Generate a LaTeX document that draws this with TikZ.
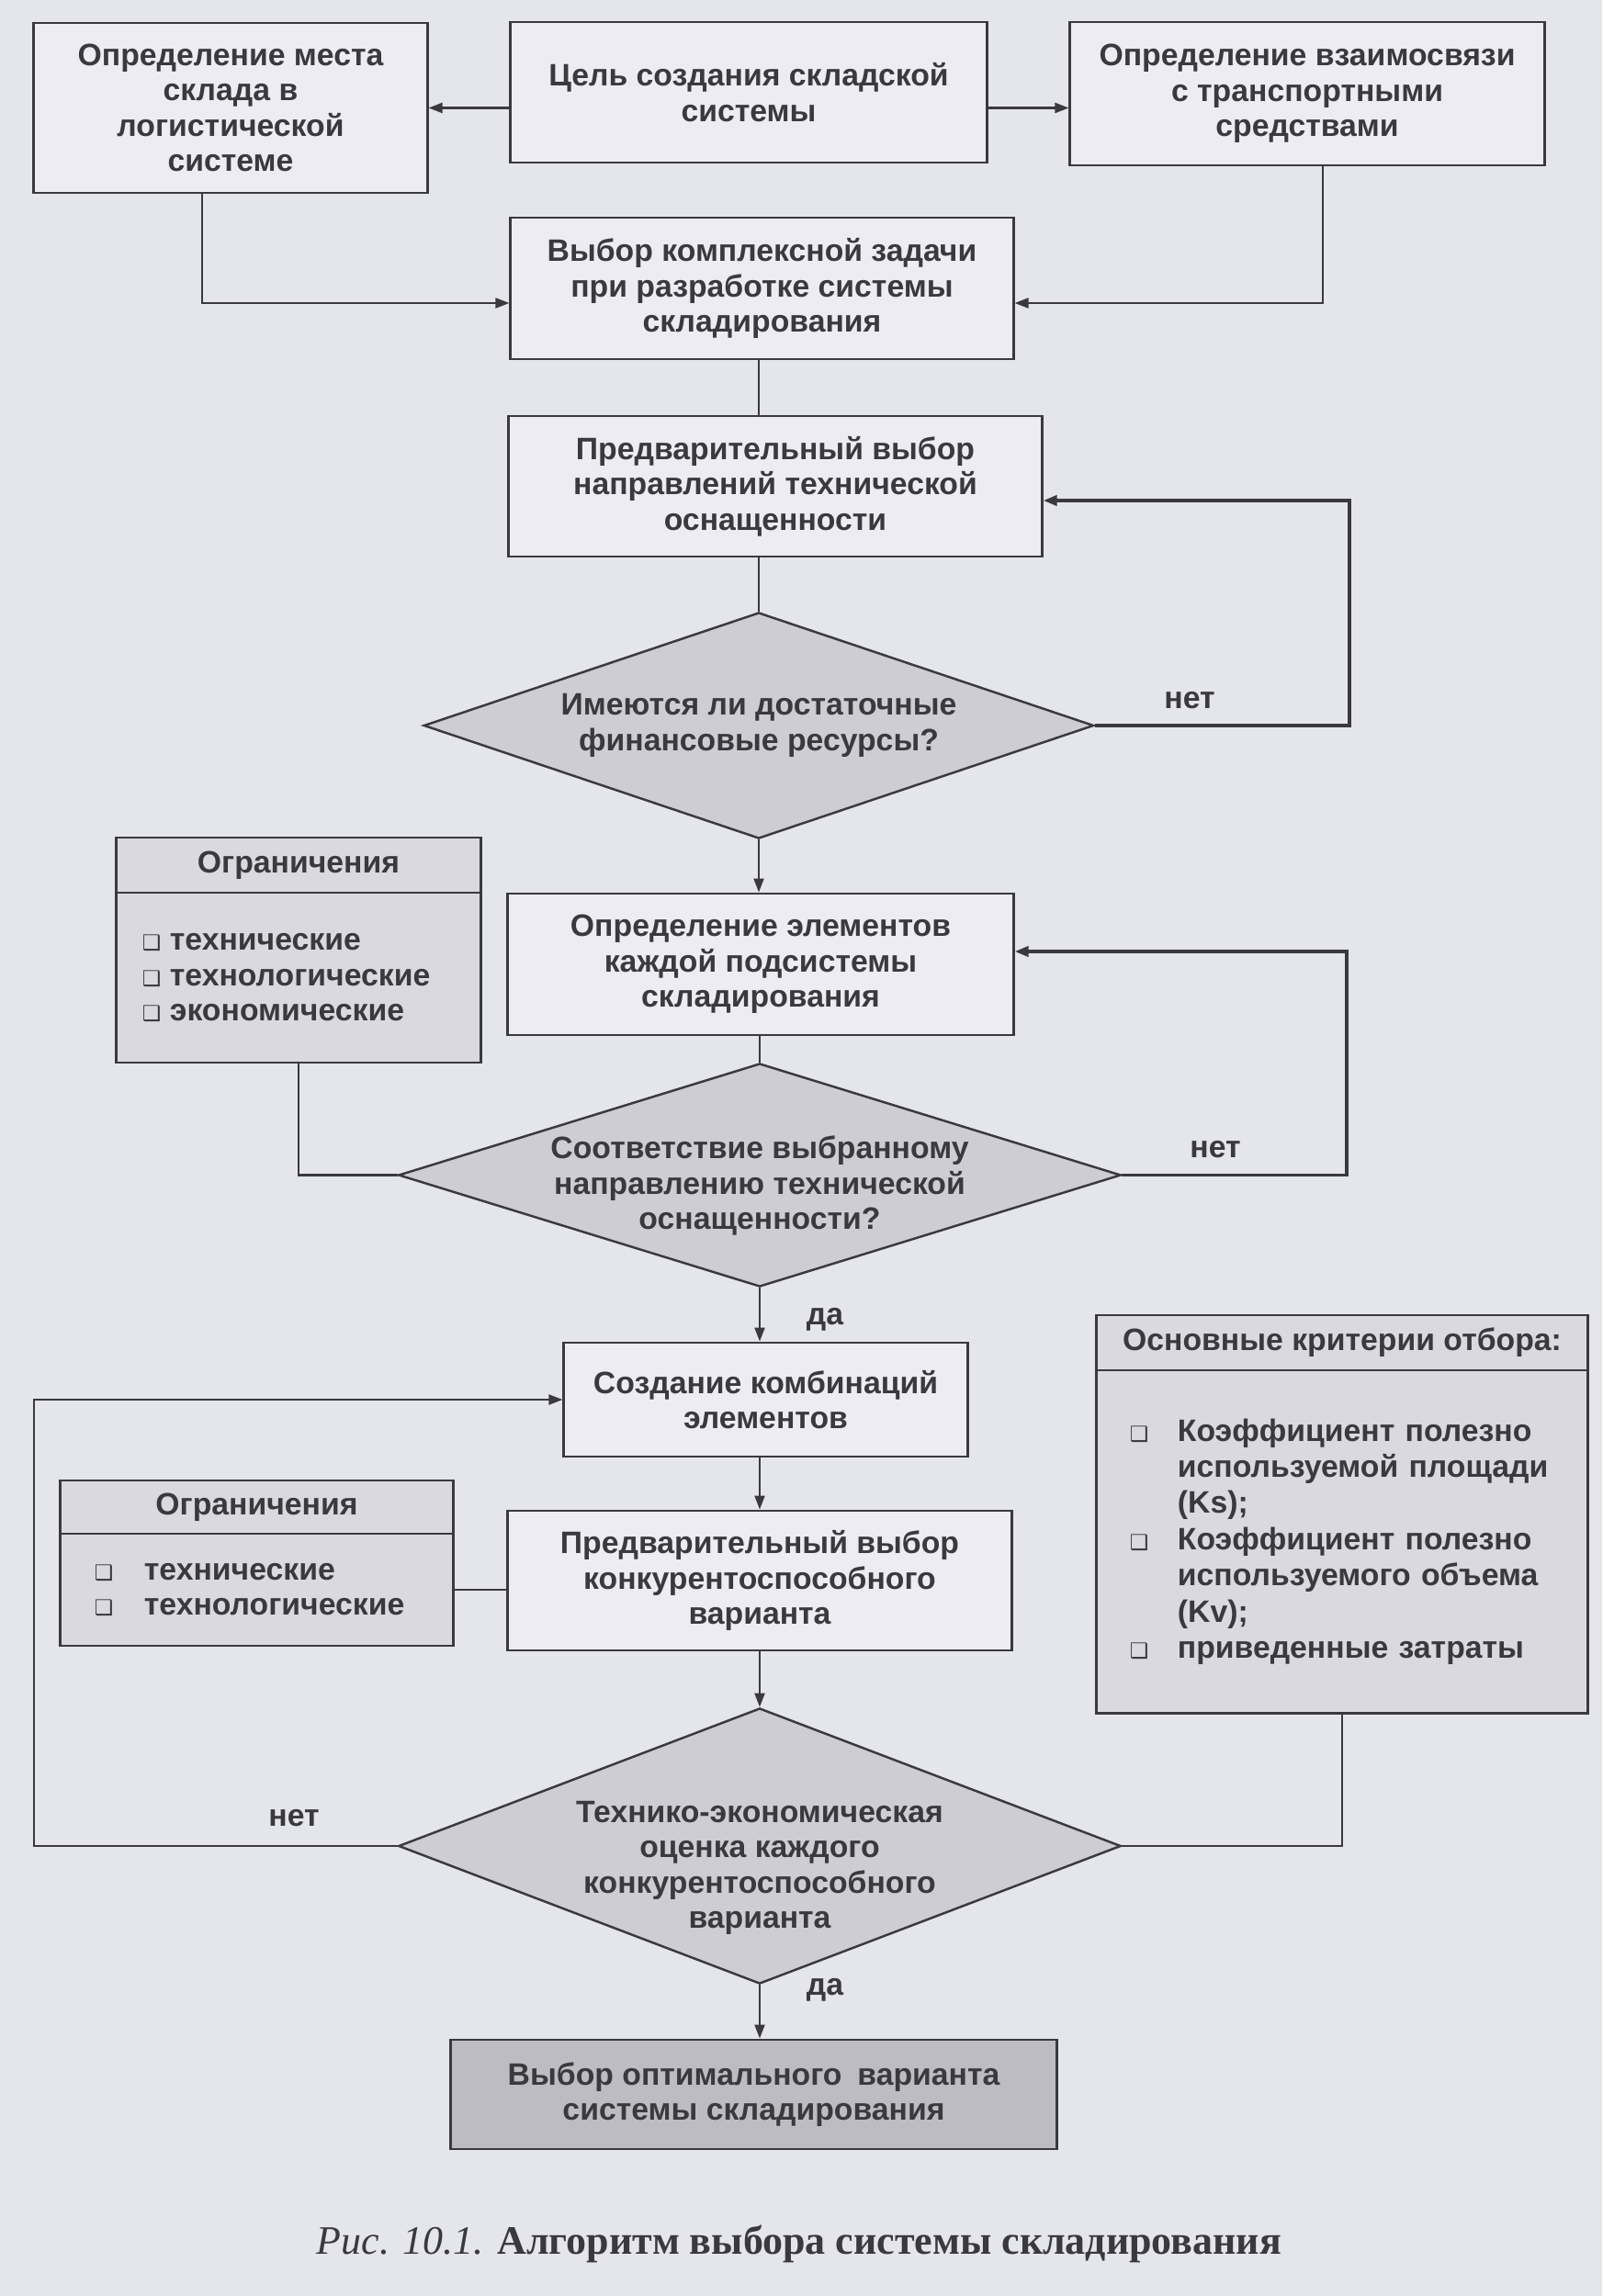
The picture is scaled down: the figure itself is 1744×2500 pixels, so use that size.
\documentclass[tikz,border=0pt]{standalone}
\usepackage{fontspec}
\setmainfont{Liberation Sans}
\newfontfamily\capfont{Liberation Serif}
\newfontfamily\symfont{DejaVu Sans}
\usetikzlibrary{shapes.geometric, arrows.meta}
\definecolor{pagebg}{RGB}{229,229,236}
\definecolor{boxbg}{RGB}{236,236,242}
\definecolor{infobg}{RGB}{217,217,223}
\definecolor{askbg}{RGB}{205,205,211}
\definecolor{endbg}{RGB}{188,188,194}
\definecolor{ink}{RGB}{58,58,62}
\newcommand{\chk}[1]{\makebox[#1][l]{{\symfont\fontsize{6.5}{6.5}\selectfont ❑}}}

\begin{document}
\begin{tikzpicture}[x=0.01cm, y=-0.01cm,
    txt/.style={font=\bfseries\fontsize{9.6}{10.9}\selectfont, text=ink},
    stage/.style={txt, draw=ink, line width=0.8pt, fill=boxbg, rectangle, inner sep=0pt, align=center},
    ask/.style={txt, draw=ink, line width=0.7pt, fill=askbg, diamond, inner sep=-0.15cm, align=center},
    infohead/.style={txt, draw=ink, line width=0.8pt, fill=infobg, rectangle, inner sep=0pt, align=center},
    infobody/.style={txt, draw=ink, line width=0.8pt, fill=infobg, rectangle, inner ysep=0pt, align=left},
    link/.style={draw=ink, line width=0.6pt},
    flow/.style={link, -{Triangle[length=1.5mm, width=1.1mm]}},
    back/.style={flow, line width=1.1pt}]
    \fill[pagebg] (0,0) rectangle (1744,2500);

    \node[stage, minimum width=4.28cm, minimum height=1.85cm] (site) at (251,117.5) {Определение места\\склада в\\логистической\\системе};
    \node[stage, minimum width=5.18cm, minimum height=1.53cm] (goal) at (815,100.5) {Цель создания складской\\системы};
    \node[stage, minimum width=5.16cm, minimum height=1.56cm] (trans) at (1423,102) {Определение взаимосвязи\\с транспортными\\средствами};
    \node[stage, minimum width=5.47cm, minimum height=1.54cm] (task) at (829.5,314) {Выбор комплексной задачи\\при разработке системы\\складирования};
    \node[stage, minimum width=5.80cm, minimum height=1.53cm] (prelim) at (844,529.5) {Предварительный выбор\\направлений технической\\оснащенности};
    \node[ask, minimum width=7.29cm, minimum height=2.46cm, aspect=2.96] (fin) at (826,790) {Имеются ли достаточные\\финансовые ресурсы?};

    \node[infohead, minimum width=3.96cm, minimum height=0.60cm] (ogrAh) at (325,942) {Ограничения};
    \node[infobody, minimum height=1.85cm, text width=3.40cm, inner xsep=0.28cm] (ogrAb) at (325,1064.5)
        {\chk{0.30cm}технические\\\chk{0.30cm}технологические\\\chk{0.30cm}экономические};
    \node[stage, minimum width=5.50cm, minimum height=1.54cm] (elems) at (828,1050) {Определение элементов\\каждой подсистемы\\складирования};
    \node[ask, minimum width=7.86cm, minimum height=2.43cm, aspect=3.23] (match) at (827,1279.5) {};
    \node[txt, align=center] (matchTxt) at (827,1291) {Соответствие выбранному\\направлению технической\\оснащенности?};

    \node[stage, minimum width=4.39cm, minimum height=1.24cm] (comb) at (833.5,1524) {Создание комбинаций\\элементов};
    \node[infohead, minimum width=4.27cm, minimum height=0.58cm] (ogrBh) at (279.5,1641) {Ограничения};
    \node[infobody, minimum height=1.22cm, text width=3.53cm, inner xsep=0.37cm] (ogrBb) at (279.5,1731)
        {\chk{0.54cm}технические\\\chk{0.54cm}технологические};
    \node[stage, minimum width=5.48cm, minimum height=1.52cm] (compet) at (827,1721) {Предварительный выбор\\конкурентоспособного\\варианта};
    \node[infohead, minimum width=5.34cm, minimum height=0.60cm] (crith) at (1461,1462) {Основные критерии отбора:};
    \node[infobody, minimum height=3.73cm, text width=4.62cm, inner xsep=0.36cm, font=\bfseries\fontsize{9.6}{11.2}\selectfont] (critb) at (1461,1678.5)
        {\chk{0.52cm}Коэффициент полезно\\\hspace*{0.52cm}используемой площади\\\hspace*{0.52cm}(Ks);\\
         \chk{0.52cm}Коэффициент полезно\\\hspace*{0.52cm}используемого объема\\\hspace*{0.52cm}(Kv);\\
         \chk{0.52cm}приведенные затраты};
    \node[ask, minimum width=7.86cm, minimum height=3.00cm, aspect=2.62] (eval) at (827,2010) {};
    \node[txt, align=center] (evalTxt) at (827,2034) {Технико-экономическая\\оценка каждого\\конкурентоспособного\\варианта};
    \node[stage, fill=endbg, minimum width=6.59cm, minimum height=1.19cm] (optim) at (820.5,2280.5) {Выбор оптимального\enspace варианта\\системы складирования};

    \node[txt] (no1) at (1295,763) {нет};
    \node[txt] (no2) at (1323,1252) {нет};
    \node[txt] (yes1) at (898,1437) {да};
    \node[txt] (no3) at (320,1980) {нет};
    \node[txt] (yes2) at (898,2167) {да};

    \coordinate (siteJ) at (220,330);
    \coordinate (transJ) at (1440,330);
    \coordinate (finR) at (1469,790);
    \coordinate (finUp) at (1469,545);
    \coordinate (matchR) at (1466,1036);
    \coordinate (evalL) at (37,2010);

    \draw[flow] (goal.west |- site.east) -- (site.east);
    \draw[flow] (goal.east |- site.east) -- (trans.west |- site.east);
    \draw[flow] (siteJ |- site.south) -- (siteJ) -- (siteJ -| task.west);
    \draw[flow] (transJ |- trans.south) -- (transJ) -- (transJ -| task.east);
    \draw[link] (fin.north |- task.south) -- (fin.north |- prelim.north);
    \draw[link] (fin.north |- prelim.south) -- (fin.north);
    \draw[flow] (fin.south) -- (fin.south |- elems.north);
    \draw[back] (fin.east) -- (finR) -- (finUp) -- (finUp -| prelim.east);
    \draw[link] (match.north |- elems.south) -- (match.north);
    \draw[link] (ogrAb.south) -- (ogrAb.south |- match.west) -- (match.west);
    \draw[back] (match.east) -- (match.east -| matchR) -- (matchR) -- (matchR -| elems.east);
    \draw[flow] (match.south) -- (match.south |- comb.north);
    \draw[flow] (match.south |- comb.south) -- (match.south |- compet.north);
    \draw[link] (ogrBb.east) -- (ogrBb.east -| compet.west);
    \draw[flow] (compet.south) -- (eval.north);
    \draw[link] (critb.south) -- (critb.south |- eval.east) -- (eval.east);
    \draw[flow] (eval.west) -- (evalL) -- (evalL |- comb.west) -- (comb.west);
    \draw[flow] (eval.south) -- (eval.south |- optim.north);

    \node[font=\capfont\fontsize{12.5}{14}\selectfont, text=ink] (caption) at (870,2443) {\textit{Рис. 10.1.} \textbf{Алгоритм выбора системы складирования}};
\end{tikzpicture}
\end{document}
